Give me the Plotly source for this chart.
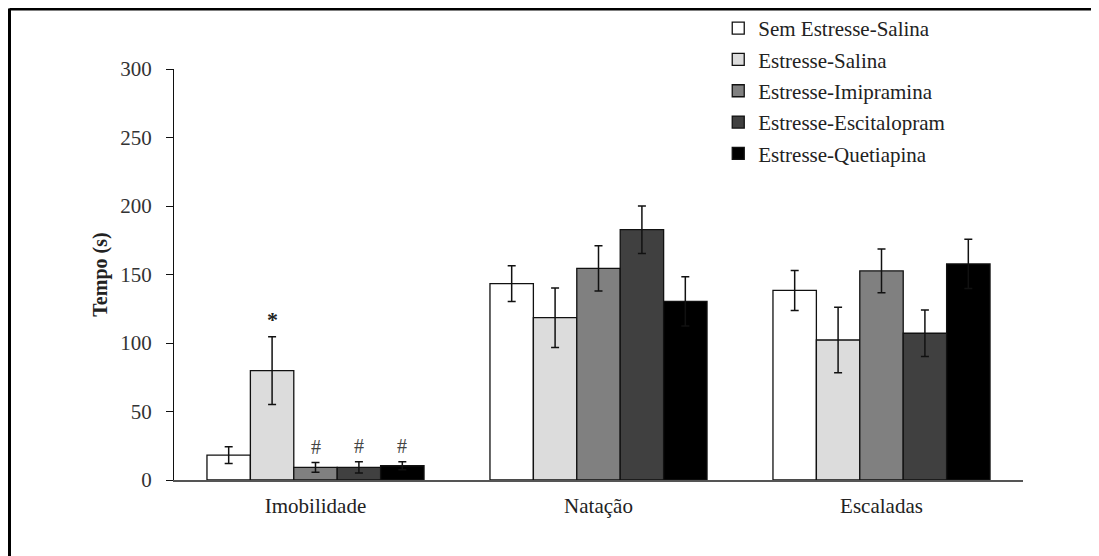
import plotly.graph_objects as go

categories = ["Imobilidade", "Natação", "Escaladas"]
series_names = ["Sem Estresse-Salina", "Estresse-Salina", "Estresse-Imipramina",
                "Estresse-Escitalopram", "Estresse-Quetiapina"]
# values per series across categories
means = [
    [18.2, 143.3, 138.4],
    [79.8, 118.5, 102.2],
    [9.2, 154.5, 152.6],
    [9.2, 182.7, 107.1],
    [10.4, 130.4, 157.7],
]
errors = [
    [6.1, 13.0, 14.6],
    [24.7, 21.7, 23.9],
    [3.5, 16.5, 16.0],
    [4.1, 17.3, 17.0],
    [3.0, 18.0, 18.0],
]
# significance marks: (series index, category index, symbol)
marks = [(1, 0, "*"), (2, 0, "#"), (3, 0, "#"), (4, 0, "#")]

colors = ["#ffffff", "#dcdcdc", "#808080", "#404040", "#000000"]
FONT = "Liberation Serif"
BARGAP = 0.233

# figure is drawn inside the page's default 8px body margin
W, H = 1091, 548
L, R, T, B = 166, 76, 61, 76
PW, PH = W - L - R, H - T - B


def px_to_paper(fx, fy):
    return (fx - L) / PW, (H - fy - B) / PH


fig = go.Figure()
xs = list(range(len(categories)))
for i, name in enumerate(series_names):
    fig.add_trace(go.Bar(
        x=xs, y=means[i], name=name,
        marker=dict(color=colors[i], line=dict(color="#111111", width=1.3)),
        error_y=dict(type="data", array=errors[i], visible=True,
                     color="#111111", thickness=1.5, width=4),
        legendgroup=f"g{i}",
    ))

n = len(series_names)
gw = 1 - BARGAP
bw = gw / n
annotations = []
for si, ci, sym in marks:
    xc = ci - gw / 2 + bw * (si + 0.5)
    top = means[si][ci] + errors[si][ci]
    if sym == "*":
        annotations.append(dict(x=xc, y=top, yshift=3, text="<b>*</b>", showarrow=False,
                                yanchor="bottom", font=dict(family=FONT, size=22, color="#222")))
    else:
        annotations.append(dict(x=xc, y=top, yshift=3, text="#", showarrow=False,
                                yanchor="bottom", font=dict(family=FONT, size=20, color="#444")))

x_left, _ = px_to_paper(1.5, 0)
x_right, _ = px_to_paper(W + 5, 0)
_, y_top = px_to_paper(0, 0.5)
_, y_bot = px_to_paper(0, H + 5)

fig.update_layout(
    width=W, height=H,
    margin=dict(l=L, r=R, t=T, b=B, autoexpand=False),
    paper_bgcolor="white", plot_bgcolor="white",
    barmode="group", bargap=BARGAP, bargroupgap=0,
    font=dict(family=FONT, size=21, color="#222"),
    showlegend=True,
    legend=dict(x=0.651, y=1.0055, xref="container", yref="container",
                xanchor="left", yanchor="top",
                font=dict(family=FONT, size=21, color="#222"),
                bgcolor="rgba(0,0,0,0)", tracegroupgap=1, itemwidth=30),
    xaxis=dict(range=[-0.5, 2.5], tickvals=xs, ticktext=categories,
               showline=True, linecolor="#555555", linewidth=1.5,
               ticks="", showgrid=False, zeroline=False, ticklabelstandoff=6,
               tickfont=dict(family=FONT, size=21, color="#222")),
    yaxis=dict(range=[0, 300], dtick=50, showline=True, linecolor="#111111",
               linewidth=1.2, ticks="outside", ticklen=7, tickcolor="#111111",
               showgrid=False, zeroline=False, ticklabelstandoff=10,
               tickfont=dict(family=FONT, size=21, color="#333"),
               title=dict(text="<b>Tempo (s)</b>", font=dict(family=FONT, size=20, color="#222"),
                          standoff=7)),
    annotations=annotations,
    shapes=[
        dict(type="line", xref="paper", yref="paper", x0=x_left, x1=x_right, y0=y_top, y1=y_top,
             line=dict(color="black", width=4)),
        dict(type="line", xref="paper", yref="paper", x0=x_left, x1=x_left, y0=y_top, y1=y_bot,
             line=dict(color="black", width=3)),
    ],
)

fig.write_html("out.html")
